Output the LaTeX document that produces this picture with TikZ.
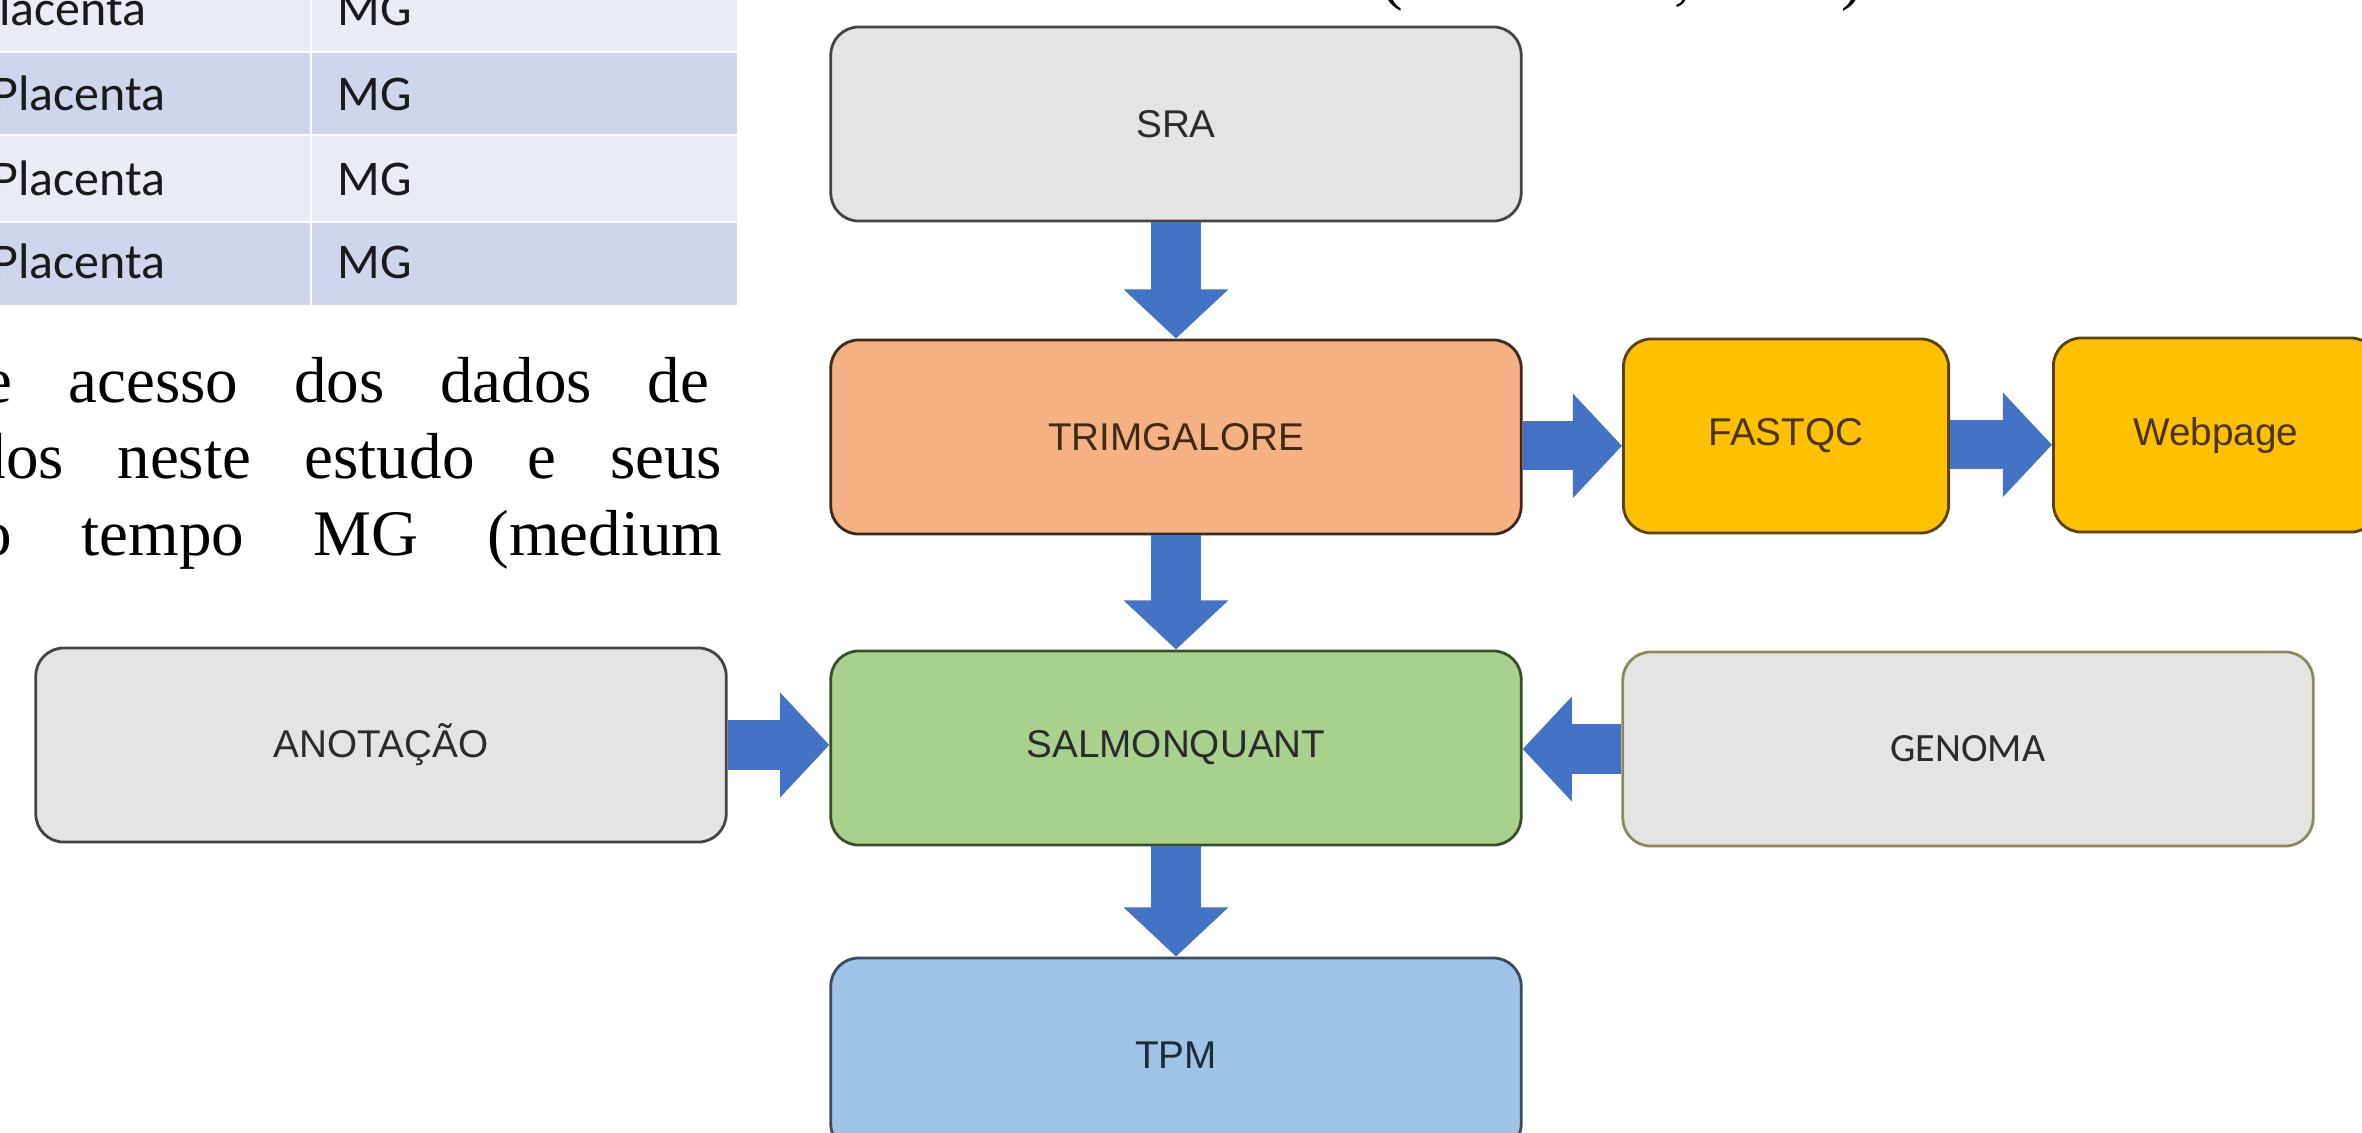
\documentclass[tikz,border=0pt]{standalone}
\usepackage{fontspec}
\setmainfont{Liberation Serif}
\newfontfamily\boxfont{Liberation Sans}
\newfontfamily\calfont{Carlito}
\usetikzlibrary{arrows.meta}

\definecolor{rowlight}{HTML}{E9EBF5}
\definecolor{rowdark}{HTML}{CFD5EA}
\definecolor{celltext}{HTML}{1A1A1A}
\definecolor{grayfill}{HTML}{E4E4E4}
\definecolor{grayedge}{HTML}{444444}
\definecolor{oliveedge}{HTML}{8D8A5A}
\definecolor{trimfill}{HTML}{F4B183}
\definecolor{trimedge}{HTML}{3D2A1C}
\definecolor{trimtext}{HTML}{3F2A14}
\definecolor{salmonfill}{HTML}{A9D18E}
\definecolor{salmonedge}{HTML}{38502A}
\definecolor{tpmfill}{HTML}{9DC3E6}
\definecolor{tpmedge}{HTML}{3B4B5C}
\definecolor{tpmtext}{HTML}{1C2B3A}
\definecolor{qcfill}{HTML}{FFC000}
\definecolor{qcedge}{HTML}{5C4200}
\definecolor{qctext}{HTML}{4D3300}
\definecolor{boxtext}{HTML}{2B2B2B}
\definecolor{arrowblue}{HTML}{4472C4}

\begin{document}
\begin{tikzpicture}[x=0.01cm, y=-0.01cm,
	box/.style={draw, line width=0.8pt, rounded corners=0.28cm, minimum width=6.9cm,
		minimum height=1.94cm, inner sep=0pt, text=boxtext,
		font=\boxfont\fontsize{11}{13}\selectfont},
	small box/.style={box, minimum width=3.25cm},
	flow/.style={draw=arrowblue, line width=14pt, -{Triangle[length=14pt,width=29pt]}},
	cell text/.style={anchor=base west, inner sep=0pt, text=celltext,
		font=\calfont\fontsize{14.2}{16}\selectfont},
	body text/.style={anchor=base east, inner sep=0pt, font=\fontsize{18.5}{22}\selectfont}
]

	\useasboundingbox (0,0) rectangle (2362,1132);
	\clip (0,0) rectangle (2362,1132);
	\fill[white] (0,0) rectangle (2362,1132);

	% table rows
	\foreach \top/\bot/\col in {-60/52/rowlight,52/135/rowdark,135/222/rowlight,222/305/rowdark} {
		\fill[\col] (-10,\top) rectangle (737,\bot);
	}
	\foreach \y in {52,135,222}
		\draw[white, line width=0.8pt] (-10,\y) -- (737,\y);
	\draw[white, line width=0.8pt] (311,-60) -- (311,305);

	\node[cell text] (place0) at (-27,25) {Placenta};
	\node[cell text] (mg0) at (337,25) {MG};
	\foreach \b [count=\i] in {110,195,278} {
		\node[cell text] (place\i) at (-8,\b) {Placenta};
		\node[cell text] (mg\i) at (337,\b) {MG};
	}

	% text beside the table
	\node[body text] (line1) at (710,402) {\makebox[7.25cm][s]{e acesso dos dados de}};
	\node[body text] (line2) at (723,478) {\makebox[7.48cm][s]{dos neste estudo e seus}};
	\node[body text] (line3) at (723,555) {\makebox[7.42cm][s]{o tempo MG (medium}};

	\node[body text, anchor=base] (lparen) at (1392,-3) {(};
	\node[body text, anchor=base] (comma) at (1683,-3) {,};
	\node[body text, anchor=base] (rparen) at (1852,-3) {)};

	% pipeline
	\node[box, fill=grayfill, draw=grayedge] (sra) at (1176,124) {SRA};
	\node[box, fill=trimfill, draw=trimedge, text=trimtext] (trim) at (1176,437) {TRIMGALORE};
	\node[box, fill=salmonfill, draw=salmonedge] (salmon) at (1176,748) {SALMONQUANT};
	\node[box, fill=tpmfill, draw=tpmedge, text=tpmtext] (tpm) at (1176,1055) {TPM};

	\node[small box, fill=qcfill, draw=qcedge, text=qctext] (fastqc) at (1786,436) {FASTQC};
	\node[small box, fill=qcfill, draw=qcedge, text=qctext] (webpage) at (2216,435) {Webpage};

	\node[box, fill=grayfill, draw=grayedge] (anot) at (381,745) {ANOTAÇÃO};
	\node[box, fill=grayfill, draw=oliveedge, font=\calfont\fontsize{11.4}{13}\selectfont] (genoma) at (1968,749) {GENOMA};

	\draw[flow] (sra.south) -- (trim.north);
	\draw[flow] (trim.south) -- (salmon.north);
	\draw[flow] (salmon.south) -- (tpm.north);
	\draw[flow] ([yshift=-2.5pt]trim.east) -- ([yshift=-2.5pt]trim.east -| fastqc.west);
	\draw[flow] ([yshift=-2.5pt]fastqc.east) -- ([yshift=-2.5pt]fastqc.east -| webpage.west);
	\draw[flow] (anot.east) -- (anot.east -| salmon.west);
	\draw[flow] (genoma.west) -- (genoma.west -| salmon.east);
\end{tikzpicture}
\end{document}
